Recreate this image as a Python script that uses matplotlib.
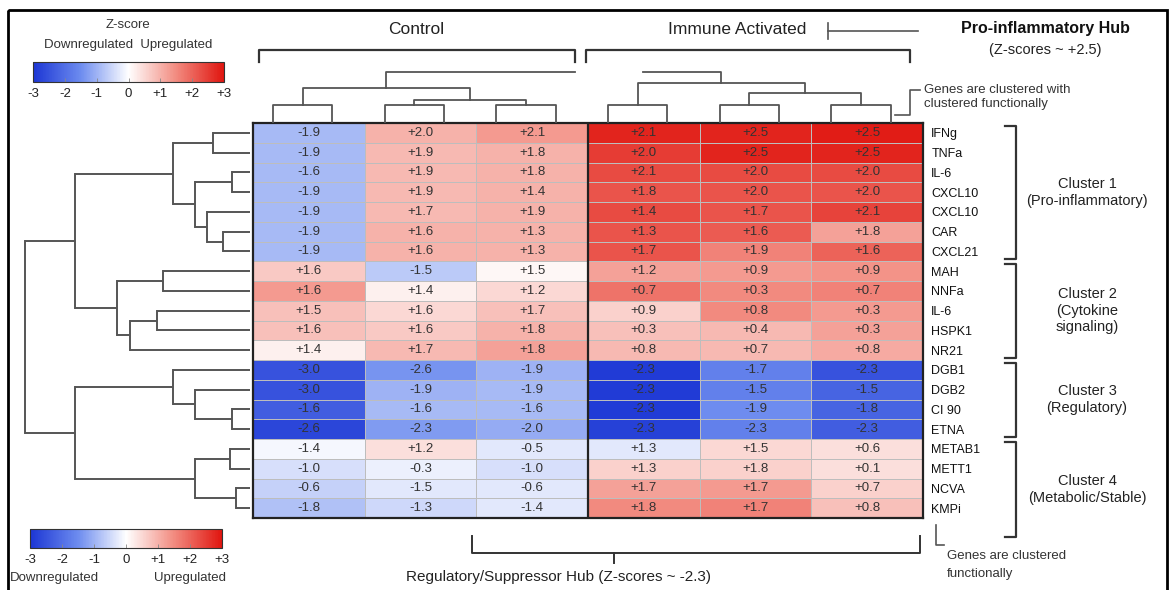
import matplotlib
matplotlib.use('Agg')

import matplotlib.pyplot as plt
from matplotlib.colors import LinearSegmentedColormap, Normalize
from matplotlib.cm import ScalarMappable
from matplotlib.patches import Rectangle
import numpy as np

plt.rcParams['font.family'] = ['Liberation Sans', 'DejaVu Sans']

W, H = 1171, 590

# ---- data ----
conditions = ["Control", "Immune Activated"]
genes = ["IFNg", "TNFa", "IL-6", "CXCL10", "CXCL10", "CAR", "CXCL21",
         "MAH", "NNFa", "IL-6", "HSPK1", "NR21",
         "DGB1", "DGB2", "CI 90", "ETNA",
         "METAB1", "METT1", "NCVA", "KMPi"]

# z-scores printed in the cells (3 control + 3 immune samples)
zscores = [
    [-1.9, 2.0, 2.1, 2.1, 2.5, 2.5],
    [-1.9, 1.9, 1.8, 2.0, 2.5, 2.5],
    [-1.6, 1.9, 1.8, 2.1, 2.0, 2.0],
    [-1.9, 1.9, 1.4, 1.8, 2.0, 2.0],
    [-1.9, 1.7, 1.9, 1.4, 1.7, 2.1],
    [-1.9, 1.6, 1.3, 1.3, 1.6, 1.8],
    [-1.9, 1.6, 1.3, 1.7, 1.9, 1.6],
    [1.6, -1.5, 1.5, 1.2, 0.9, 0.9],
    [1.6, 1.4, 1.2, 0.7, 0.3, 0.7],
    [1.5, 1.6, 1.7, 0.9, 0.8, 0.3],
    [1.6, 1.6, 1.8, 0.3, 0.4, 0.3],
    [1.4, 1.7, 1.8, 0.8, 0.7, 0.8],
    [-3.0, -2.6, -1.9, -2.3, -1.7, -2.3],
    [-3.0, -1.9, -1.9, -2.3, -1.5, -1.5],
    [-1.6, -1.6, -1.6, -2.3, -1.9, -1.8],
    [-2.6, -2.3, -2.0, -2.3, -2.3, -2.3],
    [-1.4, 1.2, -0.5, 1.3, 1.5, 0.6],
    [-1.0, -0.3, -1.0, 1.3, 1.8, 0.1],
    [-0.6, -1.5, -0.6, 1.7, 1.7, 0.7],
    [-1.8, -1.3, -1.4, 1.8, 1.7, 0.8],
]

# cell shading as it appears in the picture (does not follow the printed numbers exactly)
shading = [
    [-0.9, 1.0, 1.3, 2.8, 2.8, 2.9],
    [-0.9, 0.9, 1.0, 2.5, 2.8, 2.8],
    [-0.9, 0.9, 1.0, 2.3, 2.3, 2.3],
    [-0.9, 0.9, 1.0, 2.2, 2.2, 2.2],
    [-0.9, 0.9, 1.0, 2.3, 2.2, 2.4],
    [-0.9, 1.0, 1.0, 2.2, 2.1, 1.2],
    [-0.9, 1.0, 1.0, 2.2, 1.6, 2.0],
    [0.7, -0.7, 0.1, 1.2, 1.3, 1.4],
    [1.3, 0.2, 0.5, 1.8, 1.5, 1.6],
    [0.8, 0.5, 0.8, 0.6, 1.5, 1.3],
    [0.8, 0.7, 1.0, 0.8, 0.9, 1.2],
    [0.2, 0.9, 1.2, 0.9, 0.9, 1.1],
    [-2.5, -1.4, -1.0, -2.9, -1.7, -2.5],
    [-2.5, -1.0, -0.9, -2.9, -1.7, -2.2],
    [-2.3, -0.9, -0.9, -2.9, -1.5, -2.2],
    [-2.7, -1.3, -1.1, -2.8, -1.7, -2.3],
    [-0.1, 0.4, -0.3, -0.3, 0.5, 0.4],
    [-0.4, -0.2, -0.4, 0.6, 0.6, 0.4],
    [-0.6, -0.3, -0.3, 1.2, 1.3, 0.6],
    [-0.8, -0.5, -0.3, 1.5, 1.6, 0.8],
]

clusters = [("Cluster 1\n(Pro-inflammatory)", 0, 7),
            ("Cluster 2\n(Cytokine\nsignaling)", 7, 12),
            ("Cluster 3\n(Regulatory)", 12, 16),
            ("Cluster 4\n(Metabolic/Stable)", 16, 20)]

cbar_ticks = [-3, -2, -1, 0, 1, 2, 3]
cbar_labels = ["-3", "-2", "-1", "0", "+1", "+2", "+3"]

# row dendrogram: (left, right, merge position in px), leaves are row indices
row_tree = (
    (((0, 1, 213), ((2, 3, 232), (4, (5, 6, 223), 207), 195), 173),
     ((7, 8, 163), ((9, 10, 157), 11, 130), 117), 75),
    ((12, (13, (14, 15, 232), 195), 173),
     ((16, 17, 230), (18, 19, 236), 195), 75),
    25)
# column dendrograms, leaves are column indices (each drawn as a small pair)
col_trees = [(0, (1, 2, 100), 88), (3, (4, 5, 93), 83)]
col_stub_end = [2.88, 3.49]

cmap = LinearSegmentedColormap.from_list(
    "zs", ["#1c36d4", "#6d8cef", "#ffffff", "#f28b80", "#e0150f"])
norm = Normalize(-3, 3)


def px_axes(fig, x0, y0, x1, y1):
    return fig.add_axes([x0 / W, 1 - y1 / H, (x1 - x0) / W, (y1 - y0) / H])


LC = "#555555"

fig = plt.figure(figsize=(W / 100, H / 100), dpi=100)

# overlay for annotations, in pixel coordinates
ov = fig.add_axes([0, 0, 1, 1])
ov.set_xlim(0, W)
ov.set_ylim(H, 0)
ov.axis("off")
ov.add_patch(Rectangle((8, 10), 1159, 600, fill=False, lw=2, ec="black"))

# ---- heatmap ----
ax = px_axes(fig, 253, 123, 923, 518)
S = np.array(shading)
ax.pcolormesh(S, cmap=cmap, norm=norm, edgecolors="#bdbdbd", linewidth=0.5)
ax.set_xlim(0, S.shape[1])
ax.set_ylim(S.shape[0], 0)
for i, row in enumerate(zscores):
    for j, v in enumerate(row):
        ax.text(j + 0.5, i + 0.5, f"{v:+.1f}", ha="center", va="center",
                fontsize=9.5, color="#333333")
ax.axvline(3, color="#222222", lw=1.6)
for s in ax.spines.values():
    s.set_linewidth(1.6)
    s.set_color("#222222")
ax.set_xticks([])
ax.yaxis.tick_right()
ax.set_yticks(np.arange(len(genes)) + 0.5)
ax.set_yticklabels(genes, fontsize=9)
ax.tick_params(axis="y", length=0, pad=6, colors="#111111")

# ---- row dendrogram ----
axr = px_axes(fig, 0, 123, 253, 518)
axr.set_xlim(0, 253)
axr.set_ylim(len(genes), 0)
axr.axis("off")


def draw_row(node):
    if not isinstance(node, tuple):
        return node + 0.5, 250
    l, r, h = node
    pl, hl = draw_row(l)
    pr, hr = draw_row(r)
    axr.plot([h, hl], [pl, pl], color=LC, lw=1.4, solid_capstyle="butt")
    axr.plot([h, hr], [pr, pr], color=LC, lw=1.4, solid_capstyle="butt")
    axr.plot([h, h], [pl, pr], color=LC, lw=1.4)
    return (pl + pr) / 2, h


draw_row(row_tree)

# ---- column dendrograms ----
axc = px_axes(fig, 253, 55, 923, 123)
axc.set_xlim(0, 6)
axc.set_ylim(123, 55)
axc.axis("off")


def draw_col(node):
    if not isinstance(node, tuple):
        a, b = node + 0.18, node + 0.71
        axc.plot([a, a, b, b], [123, 105, 105, 123], color=LC, lw=1.3)
        return (a + b) / 2, 105
    l, r, h = node
    pl, hl = draw_col(l)
    pr, hr = draw_col(r)
    axc.plot([pl, pl, pr, pr], [hl, h, h, hr], color=LC, lw=1.3)
    return (pl + pr) / 2, h


for tree, stub in zip(col_trees, col_stub_end):
    p, h = draw_col(tree)
    axc.plot([p, p, stub], [h, 72, 72], color=LC, lw=1.3)

# ---- colour bars ----
for (x0, y0, x1, y1) in [(33, 62, 224, 82), (30, 529, 222, 548)]:
    cax = px_axes(fig, x0, y0, x1, y1)
    cb = fig.colorbar(ScalarMappable(norm=norm, cmap=cmap), cax=cax,
                      orientation="horizontal")
    cb.set_ticks(cbar_ticks)
    cb.set_ticklabels(cbar_labels)
    cax.tick_params(length=3, width=0.6, color="#888888", direction="in",
                    labelsize=9.5, pad=4, labelcolor="#222222")
    cb.outline.set_linewidth(0.8)
    cb.outline.set_edgecolor("#333333")

ov.text(128, 25, "Z-score", ha="center", va="center", fontsize=9.5, color="#333")
ov.text(128, 45, "Downregulated  Upregulated", ha="center", va="center",
        fontsize=9.5, color="#333")
ov.text(10, 578, "Downregulated", ha="left", va="center", fontsize=9.5, color="#333")
ov.text(190, 578, "Upregulated", ha="center", va="center", fontsize=9.5, color="#333")

# ---- condition headers ----
ov.text(416, 30, conditions[0], ha="center", va="center", fontsize=12.5, color="#222")
ov.text(737, 30, conditions[1], ha="center", va="center", fontsize=12.5, color="#222")
ov.plot([259, 259, 575, 575], [62, 50, 50, 62], color="#333", lw=1.6)
ov.plot([586, 586, 910, 910], [62, 50, 50, 62], color="#333", lw=1.6)
ov.plot([828, 828], [23, 39], color="#555", lw=1.2)
ov.plot([828, 918], [31, 31], color="#555", lw=1.2)
ov.text(1045, 29, "Pro-inflammatory Hub", ha="center", va="center",
        fontsize=11.5, fontweight="bold", color="#111")
ov.text(1045, 50, "(Z-scores ~ +2.5)", ha="center", va="center", fontsize=10.5,
        color="#222")
ov.plot([895, 910, 910, 920], [115, 115, 90, 90], color="#555", lw=1.2)
ov.text(924, 97, "Genes are clustered with\nclustered functionally", ha="left",
        va="center", fontsize=9.5, color="#333", linespacing=1.3)

# ---- cluster brackets ----
row_px = (518 - 123) / len(genes)
for label, a, b in clusters:
    ya = 123 + a * row_px + 2.5
    yb = 123 + b * row_px - 2.5
    if b == len(genes):
        yb = 537
    ov.plot([1005, 1016, 1016, 1005], [ya, ya, yb, yb], color="#333", lw=1.6)
    ov.text(1087, (ya + yb) / 2, label, ha="center", va="center", fontsize=10.5,
            color="#222", linespacing=1.25)

# ---- bottom hub bracket ----
ov.plot([472, 472, 920, 920], [536, 553, 553, 536], color="#333", lw=1.4)
ov.plot([614, 614], [553, 563], color="#333", lw=1.4)
ov.text(558, 577, "Regulatory/Suppressor Hub (Z-scores ~ -2.3)", ha="center",
        va="center", fontsize=11, color="#222")
ov.plot([936, 936, 944], [525, 545, 545], color="#555", lw=1.2)
ov.text(947, 565, "Genes are clustered\nfunctionally", ha="left", va="center",
        fontsize=9.5, color="#333", linespacing=1.6)

fig.savefig("out.png", dpi=100)
